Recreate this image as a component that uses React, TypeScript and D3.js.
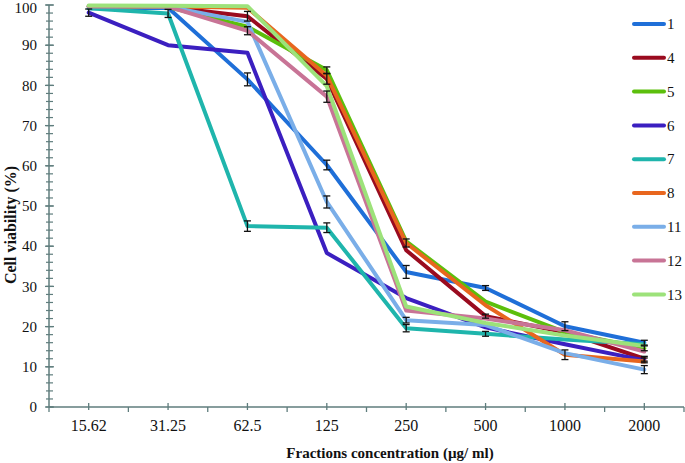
import React from "react";
import * as d3 from "d3";

const categories = ["15.62", "31.25", "62.5", "125", "250", "500", "1000", "2000"];
const seriesNames = ["1", "4", "5", "6", "7", "8", "11", "12", "13"];
const seriesColors = ["#1f6fd8", "#9a0b1f", "#5cbf0c", "#3b1fc0", "#1fb5ac", "#e8661e", "#7aaee8", "#c87496", "#9de27a"];

const s1 = [99.2, 99.3, 81.5, 60.2, 33.6, 29.6, 20.1, 16.0];
const s4 = [99.6, 99.5, 97.2, 81.6, 39.0, 22.6, 18.6, 12.0];
const s5 = [99.6, 99.5, 94.6, 83.8, 41.2, 26.2, 18.6, 14.6];
const s6 = [98.1, 90.0, 88.1, 38.3, 27.1, 19.8, 15.6, 11.6];
const s7 = [99.2, 97.9, 45.0, 44.6, 19.6, 18.2, 16.8, 15.6];
const s8 = [99.7, 99.6, 99.3, 82.4, 40.8, 25.3, 13.0, 11.3];
const s11 = [99.7, 99.6, 95.8, 51.0, 21.6, 20.4, 13.4, 9.3];
const s12 = [99.7, 99.6, 93.6, 77.2, 24.0, 22.0, 19.1, 13.8];
const s13 = [99.9, 99.8, 99.7, 79.8, 25.0, 20.9, 17.8, 15.2];

const e1 = [0, 0, 1.6, 1.2, 1.6, 0.6, 1.1, 0.6];
const e4 = [0, 0, 1.2, 1.3, 0, 0.5, 0, 0.6];
const e5 = [0, 0, 0, 0.8, 0, 0, 0, 0.6];
const e6 = [0.9, 0, 0, 0, 0, 0, 0, 0.6];
const e7 = [0, 1.0, 1.3, 1.2, 0.9, 0.6, 0, 0];
const e8 = [0, 0, 0, 0, 1.0, 0, 1.2, 0];
const e11 = [0, 0, 0, 1.5, 0.7, 0, 0, 1.0];
const e12 = [0, 0, 1.0, 1.4, 0, 0, 0, 0];
const e13 = [0, 0, 0, 0, 0, 0, 0, 0];

const seriesValues = [s1, s4, s5, s6, s7, s8, s11, s12, s13];
const seriesErrors = [e1, e4, e5, e6, e7, e8, e11, e12, e13];

const yMajor = [0, 10, 20, 30, 40, 50, 60, 70, 80, 90, 100];
const yMinor = d3.range(0, 101, 2);

export default function App() {
  const W = 685;
  const H = 463;
  const x = d3.scaleBand<string>().domain(categories).range([49, 684]).padding(0);
  const cx = (c: string) => (x(c) as number) + x.bandwidth() / 2;
  const y = d3.scaleLinear().domain([0, 100]).range([407, 5]);
  const axisColor = "#5f7d7d";
  const font = "'Liberation Serif', 'Times New Roman', serif";

  const line = d3
    .line<number>()
    .x((_, i) => cx(categories[i]))
    .y((v) => y(v));

  const boundaries = d3.range(0, categories.length + 1).map((i) => 49 + i * x.bandwidth());

  return (
    <svg width={W} height={H} style={{ position: "absolute", left: 0, top: 0 }} fontFamily={font}>
      <rect x={0} y={0} width={W} height={H} fill="#ffffff" />
      {/* Y axis */}
      <line x1={49} x2={49} y1={y(100)} y2={y(0)} stroke={axisColor} strokeWidth={1.5} />
      {yMinor.map((v) => (
        <line key={"ym" + v} x1={46} x2={53} y1={y(v)} y2={y(v)} stroke={axisColor} strokeWidth={1.2} />
      ))}
      {yMajor.map((v) => (
        <line key={"yM" + v} x1={45} x2={54} y1={y(v)} y2={y(v)} stroke={axisColor} strokeWidth={1.3} />
      ))}
      {yMajor.map((v) => (
        <text key={"yl" + v} x={37} y={Math.max(y(v), 7.5)} dy="0.35em" textAnchor="end" fontSize={15} fill="#111">
          {v}
        </text>
      ))}
      {/* X axis */}
      <line x1={49} x2={684} y1={y(0)} y2={y(0)} stroke={axisColor} strokeWidth={1.5} />
      {boundaries.map((b, i) => (
        <line key={"xb" + i} x1={b} x2={b} y1={407} y2={412} stroke={axisColor} strokeWidth={1.3} />
      ))}
      {categories.map((c) => (
        <line key={"xt" + c} x1={cx(c)} x2={cx(c)} y1={403} y2={410} stroke={axisColor} strokeWidth={1.3} />
      ))}
      {categories.map((c) => (
        <text key={"xl" + c} x={cx(c)} y={431} textAnchor="middle" fontSize={16} fill="#111">
          {c}
        </text>
      ))}
      {/* Axis titles */}
      <text x={390} y={458} textAnchor="middle" fontSize={15} fontWeight="bold" fill="#111">
        Fractions concentration (µg/ ml)
      </text>
      <text
        transform={`translate(16,225) rotate(-90)`}
        textAnchor="middle"
        fontSize={16}
        fontWeight="bold"
        fill="#111"
      >
        Cell viability (%)
      </text>
      {/* Lines */}
      {seriesValues.map((vals, si) => (
        <path
          key={"s" + si}
          d={line(vals) || ""}
          fill="none"
          stroke={seriesColors[si]}
          strokeWidth={4}
          strokeLinejoin="round"
          strokeLinecap="round"
        />
      ))}
      {/* Error bars */}
      {seriesValues.map((vals, si) =>
        vals.map((v, i) => {
          const e = seriesErrors[si][i];
          if (!e) return null;
          const px = cx(categories[i]);
          const y1 = y(v + e);
          const y2 = y(v - e);
          return (
            <g key={"e" + si + "-" + i} stroke="#111" strokeWidth={1.3}>
              <line x1={px} x2={px} y1={y1} y2={y2} />
              <line x1={px - 3.5} x2={px + 3.5} y1={y1} y2={y1} />
              <line x1={px - 3.5} x2={px + 3.5} y1={y2} y2={y2} />
            </g>
          );
        })
      )}
      {/* Legend */}
      {seriesNames.map((n, i) => {
        const ly = 24 + i * 33.8;
        return (
          <g key={"lg" + n}>
            <line x1={634} x2={664} y1={ly} y2={ly} stroke={seriesColors[i]} strokeWidth={4} strokeLinecap="round" />
            <text x={667} y={ly} dy="0.35em" fontSize={15} fill="#111">
              {n}
            </text>
          </g>
        );
      })}
    </svg>
  );
}
